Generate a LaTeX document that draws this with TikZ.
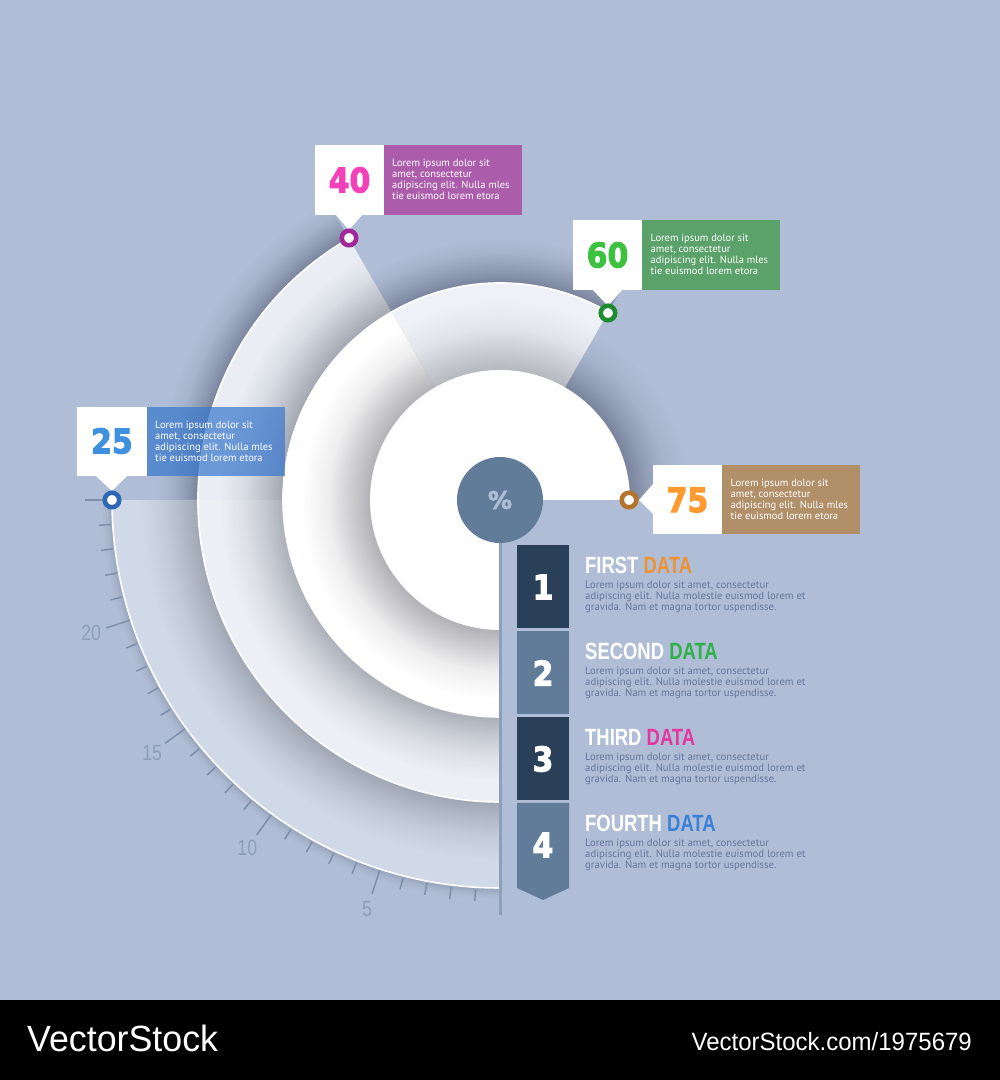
\documentclass[tikz,border=0pt]{standalone}
\usepackage{fontspec}
\setmainfont{PT Sans}
\newfontfamily\numfont[BoldFeatures={FakeBold=3}]{DejaVu Sans}
\newfontfamily\headfont{Liberation Sans}
\newfontfamily\tickfont{Liberation Sans}
\definecolor{bgc}{RGB}{175,190,214}
\definecolor{base4}{RGB}{208,217,231}
\definecolor{dark4}{RGB}{160,167,180}
\definecolor{base3}{RGB}{234,238,244}
\definecolor{dark3}{RGB}{160,165,175}
\definecolor{base2}{RGB}{238,241,246}
\definecolor{dark2}{RGB}{182,184,192}
\definecolor{dark2w}{RGB}{178,178,182}
\definecolor{shad}{RGB}{120,132,155}
\definecolor{shadb}{RGB}{150,163,186}
\definecolor{slate}{RGB}{97,124,153}
\definecolor{navy}{RGB}{42,63,88}
\definecolor{axisc}{RGB}{140,160,188}
\definecolor{tickc}{RGB}{125,143,170}
\definecolor{labc}{RGB}{140,158,185}
\definecolor{bodyc}{RGB}{100,118,155}
\definecolor{boxpurple}{RGB}{171,93,171}
\definecolor{boxgreen}{RGB}{91,162,106}
\definecolor{boxblue}{RGB}{58,120,205}
\definecolor{boxbrown}{RGB}{177,143,105}
\definecolor{numpink}{RGB}{245,65,185}
\definecolor{numgreen}{RGB}{61,194,64}
\definecolor{numblue}{RGB}{64,144,224}
\definecolor{numorange}{RGB}{255,154,48}
\definecolor{ringpurple}{RGB}{160,40,155}
\definecolor{ringgreen}{RGB}{32,140,48}
\definecolor{ringblue}{RGB}{46,104,180}
\definecolor{ringorange}{RGB}{179,116,44}
\definecolor{headorange}{RGB}{238,146,51}
\definecolor{headgreen}{RGB}{47,176,74}
\definecolor{headpink}{RGB}{227,55,159}
\definecolor{headblue}{RGB}{58,128,216}
% radial shadings: the circle of radius 400 units fits 25bp, so 1bp = 16 units
\pgfdeclareradialshading{sh4}{\pgfpoint{0bp}{0bp}}{color(0bp)=(dark4);color(18.875bp)=(dark4);color(20bp)=(dark4!60!base4);color(21bp)=(dark4!28!base4);color(22.5bp)=(base4);color(50bp)=(base4)}
\pgfdeclareradialshading{sh3}{\pgfpoint{0bp}{0bp}}{color(0bp)=(dark3);color(13.55bp)=(dark3);color(14.75bp)=(dark3!60!base3);color(16bp)=(dark3!25!base3);color(17.5bp)=(base3);color(50bp)=(base3)}
\pgfdeclareradialshading{sh2}{\pgfpoint{0bp}{0bp}}{color(0bp)=(dark2);color(8.125bp)=(dark2);color(9.5bp)=(dark2!60!base2);color(10.75bp)=(dark2!22!base2);color(12.5bp)=(base2);color(50bp)=(base2)}
\pgfdeclareradialshading{sh2w}{\pgfpoint{0bp}{0bp}}{color(0bp)=(dark2w);color(8.125bp)=(dark2w);color(9.5bp)=(dark2w!60!white);color(10.75bp)=(dark2w!22!white);color(12.5bp)=(white);color(50bp)=(white)}
\pgfdeclareradialshading{shtop}{\pgfpoint{0bp}{0bp}}{color(0bp)=(shad);color(13.55bp)=(shad);color(14.5bp)=(shad!55!bgc);color(15.5bp)=(shad!18!bgc);color(16.4bp)=(bgc);color(50bp)=(bgc)}
\pgfdeclareradialshading{shleft}{\pgfpoint{0bp}{0bp}}{color(0bp)=(shad);color(18.875bp)=(shad);color(19.7bp)=(shad!55!bgc);color(20.6bp)=(shad!18!bgc);color(21.6bp)=(bgc);color(50bp)=(bgc)}
\pgfdeclareradialshading{shright}{\pgfpoint{0bp}{0bp}}{color(0bp)=(shad);color(8.125bp)=(shad);color(9.25bp)=(shad!55!bgc);color(10.5bp)=(shad!18!bgc);color(12bp)=(bgc);color(50bp)=(bgc)}
\pgfdeclareradialshading{shbot}{\pgfpoint{0bp}{0bp}}{color(0bp)=(shadb);color(24.25bp)=(shadb);color(24.6bp)=(shadb!35!bgc);color(24.95bp)=(bgc);color(50bp)=(bgc)}
\newcommand{\wedgepath}[3]{(0,0) -- (#2:#1 pt) arc[start angle=#2,end angle=#3,radius=#1 pt] -- cycle}
\newcommand{\shadedwedge}[4]{\begin{scope}\clip \wedgepath{#1}{#2}{#3};\shade[shading=#4] (0,0) circle[radius=400pt];\end{scope}}
\newcommand{\loremshort}{Lorem ipsum dolor sit\\amet, consectetur\\adipiscing elit. Nulla mles\\tie euismod lorem etora}
\newcommand{\loremlong}{Lorem ipsum dolor sit amet, consectetur\\adipiscing elit. Nulla molestie euismod lorem et\\gravida. Nam et magna tortor uspendisse.}
\tikzset{
  x=1pt,y=1pt,
  boxtext/.style={anchor=base west,inner sep=0pt,align=left,text=white,font=\fontsize{10.5}{11}\selectfont},
  bodytext/.style={anchor=base west,inner sep=0pt,align=left,text=bodyc,font=\fontsize{10.7}{11}\selectfont},
  headtext/.style={anchor=base west,inner sep=0pt,font=\headfont\bfseries\fontsize{23.5}{24}\selectfont},
  bignum/.style={inner sep=0pt,font=\numfont\bfseries\fontsize{34}{34}\selectfont},
  listnum/.style={inner sep=0pt,text=white,font=\numfont\bfseries\fontsize{34}{34}\selectfont},
  ticklab/.style={inner sep=0pt,text=labc,font=\tickfont\fontsize{22}{22}\selectfont},
  ringmark/.style={circle,draw=#1,line width=4.6pt,fill=white,minimum size=14.5pt,inner sep=0pt},
  rimline/.style={white,line width=1.6pt},
}
\begin{document}
\begin{tikzpicture}
\useasboundingbox (0,0) rectangle (1000,1080);
\fill[bgc] (0,0) rectangle (1000,1080);
\fill[black] (0,0) rectangle (1000,80);
\node[anchor=base west,inner sep=0pt,text=white,font=\headfont\fontsize{36.5}{37}\selectfont] (wm1) at (27,28) {\scalebox{.98}[1]{VectorStock}};
\node[anchor=base east,inner sep=0pt,text=white,font=\headfont\fontsize{25}{25}\selectfont] (wm2) at (972,29) {\scalebox{.96}[1]{VectorStock.com/1975679}};
\begin{scope}[shift={(500,580)}]
  % shadows on the background
  \shadedwedge{400}{120}{180}{shleft}
  \shadedwedge{400}{60}{120}{shtop}
  \shadedwedge{400}{0}{60}{shright}
  \shadedwedge{400}{180}{270}{shbot}
  % ticks
  \foreach \k in {1,...,24}{
    \pgfmathtruncatemacro{\m}{mod(\k,5)}
    \pgfmathsetmacro{\ang}{270-3.6*\k}
    \ifnum\m=0
      \draw[tickc,line width=1.5pt] (\ang:388pt) -- (\ang:414pt);
    \else
      \draw[tickc,line width=1.5pt] (\ang:390pt) -- (\ang:402pt);
    \fi
  }
  \draw[tickc,line width=1.5pt] (180:388pt) -- (180:415pt);
  \draw[tickc,line width=1.5pt] (270:388pt) -- (270:402pt);
  \node[ticklab] (t5) at (252:430pt) {\scalebox{.8}[1]{5}};
  \node[ticklab] (t10) at (234:430pt) {\scalebox{.8}[1]{10}};
  \node[ticklab] (t15) at (216:430pt) {\scalebox{.8}[1]{15}};
  \node[ticklab] (t20) at (198:430pt) {\scalebox{.8}[1]{20}};
  % fourth sector
  \shadedwedge{388}{180}{270}{sh4}
  \draw[rimline] (180:388pt) arc[start angle=180,end angle=270,radius=388pt];
  % third sector
  \shadedwedge{302}{120}{270}{sh3}
  \fill[white,opacity=.12] \wedgepath{302}{180}{270};
  \draw[rimline] (120:302pt) arc[start angle=120,end angle=270,radius=302pt];
  % second sector
  \shadedwedge{217}{60}{120}{sh2}
  \shadedwedge{217}{120}{270}{sh2w}
  \draw[rimline] (60:217pt) arc[start angle=60,end angle=270,radius=217pt];
  % first sector
  \fill[white] \wedgepath{130}{0}{270};
  % axis
  \fill[axisc] (-1.5,-40) rectangle (1.5,-415);
  % centre disc
  \node[circle,fill=slate,minimum size=86pt,inner sep=0pt,text=bgc,font=\numfont\bfseries\fontsize{24}{24}\selectfont] (pct) at (0,0) {\%};
\end{scope}
% call-outs
\fill[white] (335,866) -- (363,866) -- (349,850) -- cycle;
\fill[white] (593,790) -- (622,790) -- (608,774) -- cycle;
\fill[white] (96,604) -- (127,604) -- (112,589) -- cycle;
\fill[white] (653,596) -- (653,566) -- (639,580) -- cycle;
\fill[white] (315,865) rectangle (384,935);
\fill[white] (573,790) rectangle (642,860);
\fill[white] (77,604) rectangle (146.5,673);
\fill[white] (653,546) rectangle (722,615);
\fill[boxpurple] (384,865) rectangle (522,935);
\fill[boxgreen] (642,790) rectangle (780,860);
\fill[boxblue,opacity=.72] (146.5,604) rectangle (284.5,673);
\fill[boxbrown] (722,546) rectangle (860,615);
\node[bignum,text=numpink] (n40) at (349.5,900) {\scalebox{.88}[1]{40}};
\node[bignum,text=numgreen] (n60) at (607.5,825) {\scalebox{.88}[1]{60}};
\node[bignum,text=numblue] (n25) at (112,639) {\scalebox{.88}[1]{25}};
\node[bignum,text=numorange] (n75) at (687.5,580) {\scalebox{.88}[1]{75}};
\node[boxtext] (b40) at (392,880) {\loremshort};
\node[boxtext] (b60) at (650.5,805) {\loremshort};
\node[boxtext] (b25) at (155,618) {\loremshort};
\node[boxtext] (b75) at (730.5,560) {\loremshort};
\node[ringmark=ringpurple] (m40) at (349,842) {};
\node[ringmark=ringgreen] (m60) at (608,767) {};
\node[ringmark=ringblue] (m25) at (112,580) {};
\node[ringmark=ringorange] (m75) at (629,580) {};
% list
\fill[navy] (517,452) rectangle (569,535);
\fill[slate] (517,366) rectangle (569,449);
\fill[navy] (517,280) rectangle (569,363);
\fill[slate] (517,277) -- (569,277) -- (569,192) -- (543,180) -- (517,192) -- cycle;
\node[listnum] (l1) at (543,493) {\scalebox{.88}[1]{1}};
\node[listnum] (l2) at (543,407) {\scalebox{.88}[1]{2}};
\node[listnum] (l3) at (543,321) {\scalebox{.88}[1]{3}};
\node[listnum] (l4) at (543,235) {\scalebox{.88}[1]{4}};
\node[headtext,text=white] (h1) at (585,506) {\scalebox{.785}[1]{FIRST \textcolor{headorange}{DATA}}};
\node[headtext,text=white] (h2) at (585,420) {\scalebox{.785}[1]{SECOND \textcolor{headgreen}{DATA}}};
\node[headtext,text=white] (h3) at (585,334) {\scalebox{.785}[1]{THIRD \textcolor{headpink}{DATA}}};
\node[headtext,text=white] (h4) at (585,248) {\scalebox{.785}[1]{FOURTH \textcolor{headblue}{DATA}}};
\node[bodytext] (d1) at (585,469) {\loremlong};
\node[bodytext] (d2) at (585,383) {\loremlong};
\node[bodytext] (d3) at (585,297) {\loremlong};
\node[bodytext] (d4) at (585,211) {\loremlong};
\end{tikzpicture}
\end{document}
